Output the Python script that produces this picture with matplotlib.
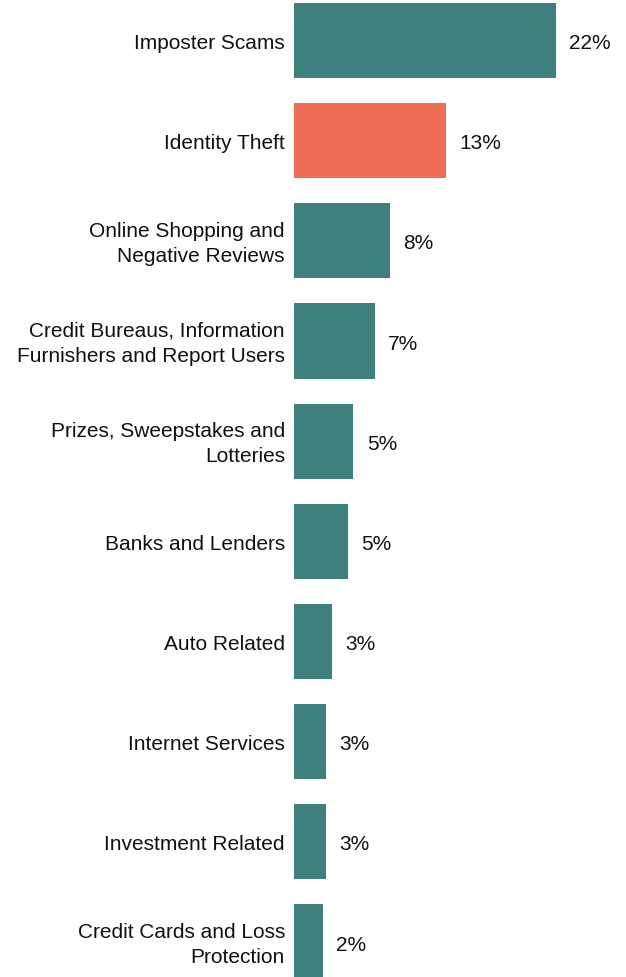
import matplotlib
matplotlib.use("Agg")
import matplotlib.pyplot as plt

categories = [
    "Imposter Scams",
    "Identity Theft",
    "Online Shopping and\nNegative Reviews",
    "Credit Bureaus, Information\nFurnishers and Report Users",
    "Prizes, Sweepstakes and\nLotteries",
    "Banks and Lenders",
    "Auto Related",
    "Internet Services",
    "Investment Related",
    "Credit Cards and Loss\nProtection",
]
values = [22.0, 12.8, 8.1, 6.8, 5.0, 4.5, 3.2, 2.7, 2.7, 2.4]
value_labels = ["22%", "13%", "8%", "7%", "5%", "5%", "3%", "3%", "3%", "2%"]
highlight = "Identity Theft"

teal = "#3d807e"
coral = "#f06e55"

plt.rcParams["font.family"] = ["Liberation Sans", "DejaVu Sans"]

W, H = 626, 978
fig = plt.figure(figsize=(W / 100, H / 100), dpi=100)
ax = fig.add_axes([294 / W, 0, 332 / W, 1])

ys = list(range(len(categories)))
colors = [coral if c == highlight else teal for c in categories]
ax.barh(ys, values, height=0.75, color=colors)
ax.set_xlim(0, 27.9)
ax.set_ylim(9.35, -0.415)

for y, v, lab, cat in zip(ys, values, value_labels, categories):
    ax.annotate(lab, (v, y), xytext=(9.5, -1.5), textcoords="offset points",
                ha="left", va="center", fontsize=15, color="#111111")
    ax.annotate(cat, (0, y), xytext=(-6.5, -1.5), textcoords="offset points",
                ha="right", va="center", fontsize=15, color="#111111",
                multialignment="right", linespacing=1.42, annotation_clip=False)

ax.axis("off")
fig.savefig("out.png", dpi=100)
